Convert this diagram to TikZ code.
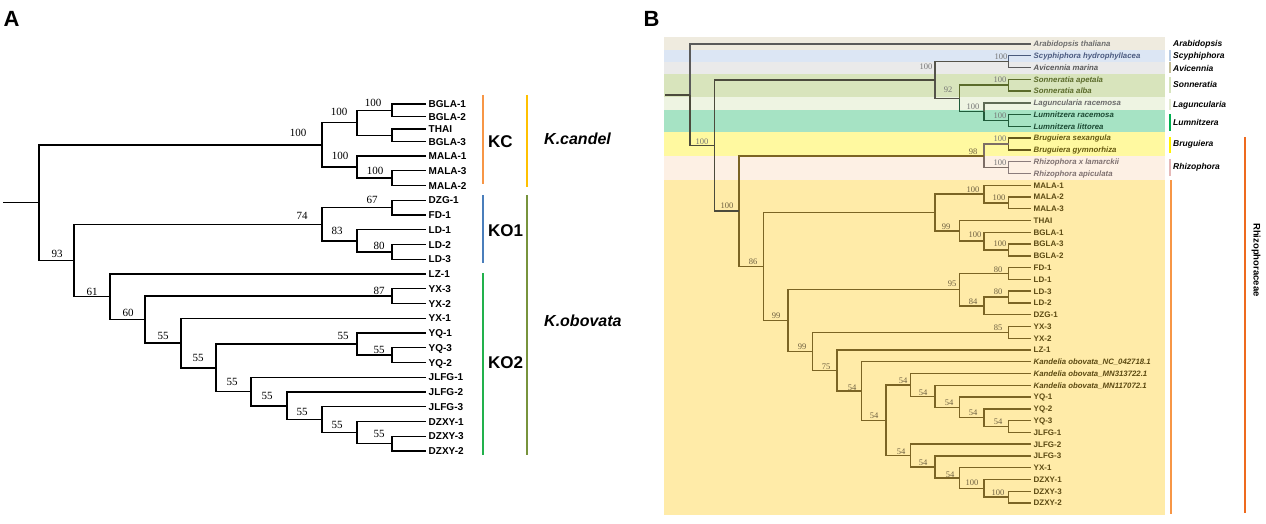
\documentclass[tikz,border=0pt]{standalone}
\usepackage{fontspec}
\setmainfont{Liberation Serif}
\setsansfont{Liberation Sans}
\usetikzlibrary{calc}
\definecolor{barKC}{HTML}{F79646}
\definecolor{barKOa}{HTML}{4A7EBB}
\definecolor{barKOb}{HTML}{22B14C}
\definecolor{barKcan}{HTML}{FFC000}
\definecolor{barKobo}{HTML}{77933C}
\definecolor{bgAra}{HTML}{EFEBDF}
\definecolor{bgScy}{HTML}{DCE6F4}
\definecolor{bgAvi}{HTML}{EAEAEA}
\definecolor{bgSon}{HTML}{D8E4BC}
\definecolor{bgLag}{HTML}{EEF4E2}
\definecolor{bgLum}{HTML}{A6E3C4}
\definecolor{bgBru}{HTML}{FFF9A0}
\definecolor{bgRhi}{HTML}{FDF0E4}
\definecolor{bgRz}{HTML}{FFEBA8}
\definecolor{lgScy}{HTML}{B8CCE4}
\definecolor{lgAvi}{HTML}{C4BD97}
\definecolor{lgSon}{HTML}{D7E4BD}
\definecolor{lgLag}{HTML}{E4ECD2}
\definecolor{lgLum}{HTML}{00B050}
\definecolor{lgBru}{HTML}{FFF200}
\definecolor{lgRhi}{HTML}{E6B9B8}
\definecolor{lgRz}{HTML}{F79646}
\definecolor{lgFam}{HTML}{EE6A1E}
\definecolor{cRoot}{HTML}{4B4A3C}
\definecolor{cAra}{HTML}{5A5A5A}
\definecolor{cNon}{HTML}{54534A}
\definecolor{cScy}{HTML}{4A5A7C}
\definecolor{cAvi}{HTML}{5A5A5A}
\definecolor{cSon}{HTML}{5B6B2B}
\definecolor{cLag}{HTML}{5F6B55}
\definecolor{cLum}{HTML}{1F5B3A}
\definecolor{cBru}{HTML}{66591A}
\definecolor{cRhi}{HTML}{8A7C7C}
\definecolor{cBR}{HTML}{7D6E66}
\definecolor{cRz}{HTML}{7B6424}
\definecolor{tAra}{HTML}{6D6D6D}
\definecolor{tScy}{HTML}{4C5B80}
\definecolor{tAvi}{HTML}{595959}
\definecolor{tSon}{HTML}{5B6B2B}
\definecolor{tLag}{HTML}{6A6A6A}
\definecolor{tLum}{HTML}{1C4A33}
\definecolor{tBru}{HTML}{665A10}
\definecolor{tRhi}{HTML}{7E7070}
\definecolor{tRz}{HTML}{5C4A12}
\definecolor{nUp}{HTML}{757575}
\definecolor{nRz}{HTML}{6E6040}
\newcommand\mkjoin[4]{\path let \p1=($(#3)!.5!(#4)$), \p2=(#2,0) in (\x2,\y1) coordinate (#1);}
\newcommand\jn[6]{\mkjoin{#1}{#2}{#3}{#4}\draw[#5] (#1) |- (#3);\draw[#6] (#1) |- (#4);}
\newcommand\jA[4]{\jn{#1}{#2}{#3}{#4}{brA}{brA}}
\newcommand\jR[4]{\jn{#1}{#2}{#3}{#4}{bRz}{bRz}}
\begin{document}
\begin{tikzpicture}[x=1pt,y=-1pt,
  brA/.style={line width=1.4pt,draw=black},
  brB/.style={line width=1.4pt},
  bRoot/.style={brB,draw=cRoot},
  bAra/.style={brB,draw=cAra},
  bNon/.style={brB,draw=cNon},
  bScy/.style={brB,draw=cScy},
  bAvi/.style={brB,draw=cAvi},
  bSon/.style={brB,draw=cSon},
  bLag/.style={brB,draw=cLag},
  bLum/.style={brB,draw=cLum},
  bBru/.style={brB,draw=cBru},
  bRhi/.style={brB,draw=cRhi},
  bBR/.style={brB,draw=cBR},
  bRz/.style={brB,draw=cRz},
  lfA/.style={anchor=west,inner xsep=2.5pt,inner ysep=0pt,font=\sffamily\bfseries\fontsize{10}{10}\selectfont,text height=7.2pt,text depth=0pt},
  numA/.style={inner sep=0pt,font=\fontsize{11}{11}\selectfont},
  clade/.style={anchor=west,inner sep=0pt,font=\sffamily\bfseries\fontsize{17}{17}\selectfont},
  spec/.style={anchor=west,inner sep=0pt,font=\sffamily\bfseries\itshape\fontsize{16}{16}\selectfont},
  panel/.style={inner sep=0pt,font=\sffamily\bfseries\fontsize{22}{22}\selectfont},
  lfB/.style={anchor=west,inner xsep=2.5pt,inner ysep=0pt,font=\sffamily\bfseries\fontsize{8}{8}\selectfont,text height=5.75pt,text depth=0pt,text=tRz},
  lfBi/.style={anchor=west,inner xsep=2.5pt,inner ysep=0pt,font=\sffamily\bfseries\itshape\fontsize{7.8}{7.8}\selectfont,text height=5.6pt,text depth=0pt},
  numU/.style={inner sep=0pt,font=\fontsize{8.5}{8.5}\selectfont,text=nUp},
  numB/.style={inner sep=0pt,font=\fontsize{8.5}{8.5}\selectfont,text=nRz},
  gen/.style={anchor=west,inner sep=0pt,font=\sffamily\bfseries\itshape\fontsize{8.5}{8.5}\selectfont,text height=6.1pt,text depth=0pt},
  lgbar/.style={line width=2pt}
]
\useasboundingbox (0,0) rectangle (1266,524);

% ---------------- Panel A ----------------
\node[panel] (pA) at (11.5,18.5) {A};
\coordinate (a1) at (426,104);
\coordinate (a2) at (426,116.5);
\coordinate (a3) at (426,129);
\coordinate (a4) at (426,141.5);
\coordinate (a5) at (426,156);
\coordinate (a6) at (426,170.75);
\coordinate (a7) at (426,185.5);
\coordinate (a8) at (426,200.25);
\coordinate (a9) at (426,215);
\coordinate (a10) at (426,229.75);
\coordinate (a11) at (426,244.5);
\coordinate (a12) at (426,259.25);
\coordinate (a13) at (426,274);
\coordinate (a14) at (426,288.75);
\coordinate (a15) at (426,303.5);
\coordinate (a16) at (426,318.25);
\coordinate (a17) at (426,333);
\coordinate (a18) at (426,347.75);
\coordinate (a19) at (426,362.5);
\coordinate (a20) at (426,377.25);
\coordinate (a21) at (426,392);
\coordinate (a22) at (426,406.75);
\coordinate (a23) at (426,421.5);
\coordinate (a24) at (426,436.25);
\coordinate (a25) at (426,451);
\node[lfA] (ta1) at (a1) {BGLA-1};
\node[lfA] (ta2) at (a2) {BGLA-2};
\node[lfA] (ta3) at (a3) {THAI};
\node[lfA] (ta4) at (a4) {BGLA-3};
\node[lfA] (ta5) at (a5) {MALA-1};
\node[lfA] (ta6) at (a6) {MALA-3};
\node[lfA] (ta7) at (a7) {MALA-2};
\node[lfA] (ta8) at (a8) {DZG-1};
\node[lfA] (ta9) at (a9) {FD-1};
\node[lfA] (ta10) at (a10) {LD-1};
\node[lfA] (ta11) at (a11) {LD-2};
\node[lfA] (ta12) at (a12) {LD-3};
\node[lfA] (ta13) at (a13) {LZ-1};
\node[lfA] (ta14) at (a14) {YX-3};
\node[lfA] (ta15) at (a15) {YX-2};
\node[lfA] (ta16) at (a16) {YX-1};
\node[lfA] (ta17) at (a17) {YQ-1};
\node[lfA] (ta18) at (a18) {YQ-3};
\node[lfA] (ta19) at (a19) {YQ-2};
\node[lfA] (ta20) at (a20) {JLFG-1};
\node[lfA] (ta21) at (a21) {JLFG-2};
\node[lfA] (ta22) at (a22) {JLFG-3};
\node[lfA] (ta23) at (a23) {DZXY-1};
\node[lfA] (ta24) at (a24) {DZXY-3};
\node[lfA] (ta25) at (a25) {DZXY-2};

\jA{nA1}{392}{a1}{a2}
\jA{nA2}{392}{a3}{a4}
\jA{nA3}{357}{nA1}{nA2}
\jA{nA4}{392}{a6}{a7}
\jA{nA5}{357}{a5}{nA4}
\jA{nA6}{322}{nA3}{nA5}
\jA{nA7}{392}{a8}{a9}
\jA{nA8}{392}{a11}{a12}
\jA{nA9}{357}{a10}{nA8}
\jA{nA10}{322}{nA7}{nA9}
\jA{nA11}{392}{a14}{a15}
\jA{nA12}{392}{a18}{a19}
\jA{nA13}{357}{a17}{nA12}
\jA{nA14}{392}{a24}{a25}
\jA{nA15}{357}{a23}{nA14}
\jA{nA16}{322}{a22}{nA15}
\jA{nA17}{287}{a21}{nA16}
\jA{nA18}{251}{a20}{nA17}
\jA{nA19}{216}{nA13}{nA18}
\jA{nA20}{181}{a16}{nA19}
\jA{nA21}{145}{nA11}{nA20}
\jA{nA22}{110}{a13}{nA21}
\jA{nA23}{74}{nA10}{nA22}
\jA{nA24}{39}{nA6}{nA23}
\coordinate (sA) at ($(nA24)+(-36,0)$);
\draw[brA] (sA) -- (nA24);

\node[numA] (lA1) at (373,103) {100};
\node[numA] (lA3) at (339,112) {100};
\node[numA] (lA4) at (375,171) {100};
\node[numA] (lA5) at (340,156) {100};
\node[numA] (lA6) at (298,133) {100};
\node[numA] (lA7) at (372,200) {67};
\node[numA] (lA8) at (379,246) {80};
\node[numA] (lA9) at (337,231) {83};
\node[numA] (lA10) at (302,216) {74};
\node[numA] (lA11) at (379,291) {87};
\node[numA] (lA12) at (379,350) {55};
\node[numA] (lA13) at (343,336) {55};
\node[numA] (lA14) at (379,434) {55};
\node[numA] (lA15) at (337,425) {55};
\node[numA] (lA16) at (302,412) {55};
\node[numA] (lA17) at (267,396) {55};
\node[numA] (lA18) at (232,382) {55};
\node[numA] (lA19) at (198,358) {55};
\node[numA] (lA20) at (163,336) {55};
\node[numA] (lA21) at (128,313) {60};
\node[numA] (lA22) at (92,292) {61};
\node[numA] (lA23) at (57,254) {93};

\draw[lgbar,barKC] (483,95) -- (483,184);
\draw[lgbar,barKOa] (483,195) -- (483,263);
\draw[lgbar,barKOb] (483,273) -- (483,455);
\draw[lgbar,barKcan] (527,95) -- (527,187);
\draw[lgbar,barKobo] (527,195) -- (527,455);
\node[clade] (kc) at (488,142) {KC};
\node[clade] (ko1) at (488,231) {KO1};
\node[clade] (ko2) at (488,363) {KO2};
\node[spec] (kcan) at (544,139) {K.candel};
\node[spec] (kobo) at (544,321) {K.obovata};

% ---------------- Panel B ----------------
\node[panel] (pB) at (651.5,18.5) {B};
\fill[bgAra] (664,37) rectangle (1165,50);
\fill[bgScy] (664,50) rectangle (1165,62);
\fill[bgAvi] (664,62) rectangle (1165,74.5);
\fill[bgSon] (664,74.5) rectangle (1165,97.5);
\fill[bgLag] (664,97.5) rectangle (1165,110);
\fill[bgLum] (664,110) rectangle (1165,132);
\fill[bgBru] (664,132) rectangle (1165,156);
\fill[bgRhi] (664,156) rectangle (1165,180);
\fill[bgRz] (664,180) rectangle (1165,515);

\foreach \i in {0,...,39}{\pgfmathsetmacro\yy{44+11.77*\i}\coordinate (b\i) at (1031,\yy);}
\node[lfBi,text=tAra] (tb0) at (b0) {Arabidopsis thaliana};
\node[lfBi,text=tScy] (tb1) at (b1) {Scyphiphora hydrophyllacea};
\node[lfBi,text=tAvi] (tb2) at (b2) {Avicennia marina};
\node[lfBi,text=tSon] (tb3) at (b3) {Sonneratia apetala};
\node[lfBi,text=tSon] (tb4) at (b4) {Sonneratia alba};
\node[lfBi,text=tLag] (tb5) at (b5) {Laguncularia racemosa};
\node[lfBi,text=tLum] (tb6) at (b6) {Lumnitzera racemosa};
\node[lfBi,text=tLum] (tb7) at (b7) {Lumnitzera littorea};
\node[lfBi,text=tBru] (tb8) at (b8) {Bruguiera sexangula};
\node[lfBi,text=tBru] (tb9) at (b9) {Bruguiera gymnorhiza};
\node[lfBi,text=tRhi] (tb10) at (b10) {Rhizophora x lamarckii};
\node[lfBi,text=tRhi] (tb11) at (b11) {Rhizophora apiculata};
\node[lfB] (tb12) at (b12) {MALA-1};
\node[lfB] (tb13) at (b13) {MALA-2};
\node[lfB] (tb14) at (b14) {MALA-3};
\node[lfB] (tb15) at (b15) {THAI};
\node[lfB] (tb16) at (b16) {BGLA-1};
\node[lfB] (tb17) at (b17) {BGLA-3};
\node[lfB] (tb18) at (b18) {BGLA-2};
\node[lfB] (tb19) at (b19) {FD-1};
\node[lfB] (tb20) at (b20) {LD-1};
\node[lfB] (tb21) at (b21) {LD-3};
\node[lfB] (tb22) at (b22) {LD-2};
\node[lfB] (tb23) at (b23) {DZG-1};
\node[lfB] (tb24) at (b24) {YX-3};
\node[lfB] (tb25) at (b25) {YX-2};
\node[lfB] (tb26) at (b26) {LZ-1};
\node[lfBi,text=tRz] (tb27) at (b27) {Kandelia obovata\_NC\_042718.1};
\node[lfBi,text=tRz] (tb28) at (b28) {Kandelia obovata\_MN313722.1};
\node[lfBi,text=tRz] (tb29) at (b29) {Kandelia obovata\_MN117072.1};
\node[lfB] (tb30) at (b30) {YQ-1};
\node[lfB] (tb31) at (b31) {YQ-2};
\node[lfB] (tb32) at (b32) {YQ-3};
\node[lfB] (tb33) at (b33) {JLFG-1};
\node[lfB] (tb34) at (b34) {JLFG-2};
\node[lfB] (tb35) at (b35) {JLFG-3};
\node[lfB] (tb36) at (b36) {YX-1};
\node[lfB] (tb37) at (b37) {DZXY-1};
\node[lfB] (tb38) at (b38) {DZXY-3};
\node[lfB] (tb39) at (b39) {DZXY-2};

\jn{m1}{1008.5}{b1}{b2}{bScy}{bAvi}
\jn{m2}{1008.5}{b3}{b4}{bSon}{bSon}
\jn{m3}{1008.5}{b6}{b7}{bLum}{bLum}
\jn{m4}{984}{b5}{m3}{bLag}{bLum}
\jn{m5}{959.5}{m2}{m4}{bSon}{bLum}
\jn{m6}{935}{m1}{m5}{bNon}{bNon}
\jn{m7}{1008.5}{b8}{b9}{bBru}{bBru}
\jn{m8}{1008.5}{b10}{b11}{bRhi}{bRhi}
\jn{m9}{984}{m7}{m8}{bBR}{bBR}
\jR{m10}{1008.5}{b13}{b14}
\jR{m11}{984}{b12}{m10}
\jR{m12}{1008.5}{b17}{b18}
\jR{m13}{984}{b16}{m12}
\jR{m14}{959.5}{b15}{m13}
\jR{m15}{935}{m11}{m14}
\jR{m16}{1008.5}{b19}{b20}
\jR{m17}{1008.5}{b21}{b22}
\jR{m18}{984}{m17}{b23}
\jR{m19}{959.5}{m16}{m18}
\jR{m20}{1008.5}{b24}{b25}
\jR{m21}{1008.5}{b32}{b33}
\jR{m22}{984}{b31}{m21}
\jR{m23}{959.5}{b30}{m22}
\jR{m24}{935}{b29}{m23}
\jR{m25}{910.5}{b28}{m24}
\jR{m26}{1008.5}{b38}{b39}
\jR{m27}{984}{b37}{m26}
\jR{m28}{959.5}{b36}{m27}
\jR{m29}{935}{b35}{m28}
\jR{m30}{910.5}{b34}{m29}
\jR{m31}{886}{m25}{m30}
\jR{m32}{861.5}{b27}{m31}
\jR{m33}{837}{b26}{m32}
\jR{m34}{812.5}{m20}{m33}
\jR{m35}{788}{m19}{m34}
\jR{m36}{763.5}{m15}{m35}
\jR{m37}{739}{m9}{m36}
\jn{m38}{714.5}{m6}{m37}{bRoot}{bRoot}
\jn{m39}{690}{b0}{m38}{bAra}{bRoot}
\coordinate (sB) at ($(m39)+(-25,0)$);
\draw[bRoot] (sB) -- (m39);

\node[numU] (lm1) at (1001,57) {100};
\node[numU] (lm2) at (1000,80) {100};
\node[numU] (lm3) at (1000,116) {100};
\node[numU] (lm4) at (973,107) {100};
\node[numU] (lm5) at (948,90) {92};
\node[numU] (lm6) at (926,67) {100};
\node[numU] (lm7) at (1000,139) {100};
\node[numU] (lm8) at (1000,163) {100};
\node[numB] (lm9) at (973,152) {98};
\node[numB] (lm10) at (999,198) {100};
\node[numB] (lm11) at (973,190) {100};
\node[numB] (lm12) at (1000,244) {100};
\node[numB] (lm13) at (975,235) {100};
\node[numB] (lm14) at (946,227) {99};
\node[numB] (lm16) at (998,270) {80};
\node[numB] (lm17) at (998,292) {80};
\node[numB] (lm18) at (973,302) {84};
\node[numB] (lm19) at (952,284) {95};
\node[numB] (lm20) at (998,328) {85};
\node[numB] (lm21) at (998,422) {54};
\node[numB] (lm22) at (973,413) {54};
\node[numB] (lm23) at (949,403) {54};
\node[numB] (lm24) at (923,393) {54};
\node[numB] (lm25) at (903,381) {54};
\node[numB] (lm26) at (998,493) {100};
\node[numB] (lm27) at (972,483) {100};
\node[numB] (lm28) at (950,475) {54};
\node[numB] (lm29) at (923,463) {54};
\node[numB] (lm30) at (901,452) {54};
\node[numB] (lm31) at (874,416) {54};
\node[numB] (lm32) at (852,388) {54};
\node[numB] (lm33) at (826,367) {75};
\node[numB] (lm34) at (802,347) {99};
\node[numB] (lm35) at (776,316) {99};
\node[numB] (lm36) at (753,262) {86};
\node[numB] (lm37) at (727,206) {100};
\node[numU] (lm38) at (702,142) {100};

\draw[lgbar,lgScy] (1170,50) -- (1170,61);
\draw[lgbar,lgAvi] (1170,62.5) -- (1170,73.5);
\draw[lgbar,lgSon] (1170,77) -- (1170,93);
\draw[lgbar,lgLag] (1170,99) -- (1170,110);
\draw[lgbar,lgLum] (1170,114) -- (1170,131);
\draw[lgbar,lgBru] (1170,137) -- (1170,153);
\draw[lgbar,lgRhi] (1170,159) -- (1170,176);
\draw[lgbar,lgRz] (1171,180) -- (1171,514);
\draw[lgbar,lgFam] (1245,137) -- (1245,513);
\node[gen] (gAra) at (1173,43) {Arabidopsis};
\node[gen] (gScy) at (1173,55) {Scyphiphora};
\node[gen] (gAvi) at (1173,68) {Avicennia};
\node[gen] (gSon) at (1173,84) {Sonneratia};
\node[gen] (gLag) at (1173,104) {Laguncularia};
\node[gen] (gLum) at (1173,122) {Lumnitzera};
\node[gen] (gBru) at (1173,143.5) {Bruguiera};
\node[gen] (gRhi) at (1173,166.5) {Rhizophora};
\node[rotate=-90,inner sep=0pt,font=\sffamily\bfseries\fontsize{9.5}{9.5}\selectfont] (fam) at (1256,260) {Rhizophoraceae};
\end{tikzpicture}
\end{document}
